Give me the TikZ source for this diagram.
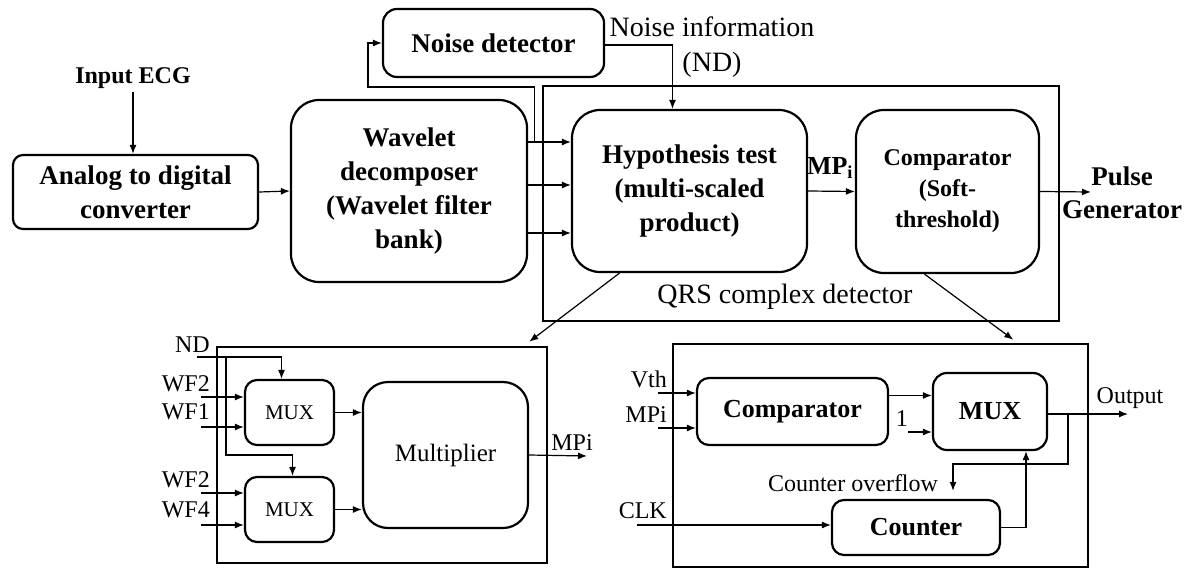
\documentclass[tikz,border=0pt]{standalone}
\usepackage{fontspec}
\setmainfont{Liberation Serif}
\usetikzlibrary{arrows.meta}
\begin{document}
\begin{tikzpicture}[x=1pt,y=-1pt,>={Latex[length=9pt,width=7pt]}]
\tikzstyle{blk}=[draw,line width=2.2pt,align=center,inner sep=0pt,font=\fontsize{27}{34}\selectfont\bfseries]
\tikzstyle{frame}=[draw,line width=2.6pt,inner sep=0pt]
\tikzstyle{lbl}=[inner sep=1pt,font=\fontsize{24}{30}\selectfont]
\tikzstyle{wire}=[line width=1.2pt]
\useasboundingbox (0,0) rectangle (1194,570);

% outer frames
\node[frame,minimum width=516pt,minimum height=235pt] at (801,203.5) (qrs) {};
\node[frame,minimum width=330pt,minimum height=216pt] at (382,455) (lbox) {};
\node[frame,minimum width=415pt,minimum height=223pt] at (880.5,455.5) (rbox) {};

% top row
\node[font=\fontsize{24}{30}\selectfont\bfseries] at (133,78) (inp) {Input ECG};
\node[blk,rounded corners=10pt,minimum width=245pt,minimum height=74pt] at (135.5,192) (adc) {Analog to digital\\converter};
\node[blk,rounded corners=28pt,minimum width=236pt,minimum height=182pt] at (409,191) (wav) {Wavelet\\decomposer\\(Wavelet filter\\bank)};
\node[blk,rounded corners=14pt,minimum width=221pt,minimum height=68pt] at (493.5,43) (nd) {Noise detector};
\node[blk,rounded corners=28pt,minimum width=235pt,minimum height=162pt] at (689.5,191) (hyp) {Hypothesis test\\(multi-scaled\\product)};
\node[blk,rounded corners=28pt,minimum width=183pt,minimum height=163pt,font=\fontsize{24}{31}\selectfont\bfseries] at (947.5,191.5) (cmp) {Comparator\\(Soft-\\threshold)};

\node[font=\fontsize{28}{35}\selectfont,align=center] at (712,47) (ninfo) {Noise information\\(ND)};
\node[font=\fontsize{26}{30}\selectfont\bfseries] at (830,168) (mpi) {MP\textsubscript{i}};
\node[font=\fontsize{27}{33}\selectfont\bfseries,align=center] at (1122,193) (pulse) {Pulse\\Generator};
\node[font=\fontsize{28}{30}\selectfont] at (785,297) (qrsl) {QRS complex detector};

\coordinate (fb) at (368,87);
\coordinate (pg) at (1091,192);

\draw[wire,->] (inp.south) -- (inp.south |- adc.north);
\draw[wire,->] (adc.east) -- (wav.west);
\draw[wire,->] ([yshift=49pt]wav.east) -- ([yshift=49pt]hyp.west);
\draw[wire,->] ([yshift=6pt]wav.east) -- ([yshift=6pt]hyp.west);
\draw[wire,->] ([yshift=-42pt]wav.east) -- ([yshift=-42pt]hyp.west);
\draw[wire,->] ([xshift=6pt,yshift=49pt]wav.east) |- (fb) |- (nd.west);
\draw[wire,->] ([yshift=-2pt]nd.east) -| ([xshift=-17pt]hyp.north);
\draw[wire,->] (hyp.east) -- (cmp.west);
\draw[wire,->] (cmp.east) -- (pg);
\draw[wire,->] ([xshift=-70pt]hyp.south) -- ([xshift=-19pt,yshift=4pt]lbox.north east);
\draw[wire,->] ([xshift=-23pt]cmp.south) -- ([xshift=-76pt,yshift=3pt]rbox.north east);

% multiplier part
\node[blk,rounded corners=12pt,minimum width=89pt,minimum height=65pt,font=\fontsize{21}{26}\selectfont] at (289.5,412.5) (mux1) {MUX};
\node[blk,rounded corners=12pt,minimum width=89pt,minimum height=65pt,font=\fontsize{21}{26}\selectfont] at (289.5,509.5) (mux2) {MUX};
\node[blk,rounded corners=25pt,minimum width=165pt,minimum height=146pt,font=\fontsize{25}{30}\selectfont] at (445.5,455) (mult) {Multiplier};

\coordinate (ndin) at (197,357);
\coordinate (ndbr) at (226,357);
\coordinate (wfa) at (201,397);
\coordinate (wfb) at (201,427);
\coordinate (wfc) at (201,493);
\coordinate (wfd) at (201,525);
\coordinate (mpo) at (587,456);

\node[lbl,anchor=south east] at ([xshift=14pt,yshift=3pt]ndin) (ndl) {ND};
\node[lbl,anchor=south east] at ([xshift=10pt,yshift=4pt]wfa) (wfal) {WF2};
\node[lbl,anchor=south east] at ([xshift=10pt,yshift=6pt]wfb) (wfbl) {WF1};
\node[lbl,anchor=south east] at ([xshift=10pt,yshift=4pt]wfc) (wfcl) {WF2};
\node[lbl,anchor=south east] at ([xshift=10pt,yshift=6pt]wfd) (wfdl) {WF4};
\node[lbl,anchor=south] at ([xshift=-15pt,yshift=4pt]mpo) (mpl) {MPi};

\draw[wire,->] (ndin) -| ([xshift=-8pt]mux1.north);
\draw[wire,->] (ndbr) |- ([xshift=3pt,yshift=21pt]mux2.north) -- ([xshift=3pt]mux2.north);
\draw[wire,->] (wfa) -- (wfa -| mux1.west);
\draw[wire,->] (wfb) -- (wfb -| mux1.west);
\draw[wire,->] (wfc) -- (wfc -| mux2.west);
\draw[wire,->] (wfd) -- (wfd -| mux2.west);
\draw[wire,->] (mux1.east) -- (mux1.east -| mult.west);
\draw[wire,->] (mux2.east) -- (mux2.east -| mult.west);
\draw[wire,->] (mult.east) -- (mpo);

% comparator part
\node[blk,rounded corners=12pt,minimum width=191pt,minimum height=67pt,font=\fontsize{26}{30}\selectfont\bfseries] at (792.5,411.5) (comp) {Comparator};
\node[blk,rounded corners=14pt,minimum width=114pt,minimum height=77pt,font=\fontsize{26}{30}\selectfont\bfseries] at (990,411.5) (muxr) {MUX};
\node[blk,rounded corners=12pt,minimum width=168pt,minimum height=55pt,font=\fontsize{26}{30}\selectfont\bfseries] at (916,527.5) (cnt) {Counter};

\coordinate (vin) at (658,393);
\coordinate (min) at (658,428);
\coordinate (cin) at (637,525);
\coordinate (onein) at (908,432);
\coordinate (out) at (1128,414);
\coordinate (fbr) at (1068,414);

\node[lbl,anchor=south east] at ([xshift=10pt,yshift=4pt]vin) (vth) {Vth};
\node[lbl,anchor=south east] at ([xshift=10pt,yshift=4pt]min) (mpr) {MPi};
\node[lbl,anchor=south east] at ([xshift=31pt,yshift=5pt]cin) (clk) {CLK};
\node[lbl,anchor=south east] at ([xshift=1pt,yshift=4pt]onein) (one) {1};
\node[lbl] at (853,483) (cov) {Counter overflow};
\node[lbl,anchor=south] at ([xshift=2pt,yshift=4pt]out) (outl) {Output};

\draw[wire,->] (vin) -- (vin -| comp.west);
\draw[wire,->] (min) -- (min -| comp.west);
\draw[wire,->] (cin) -- (cin -| cnt.west);
\draw[wire,->] ([yshift=16pt]comp.east) -- ([yshift=16pt]muxr.west);
\draw[wire,->] (onein) -- (onein -| muxr.west);
\draw[wire,->] (muxr.east |- out) -- (out);
\draw[wire,->] (fbr) |- ([xshift=37pt,yshift=35pt]cnt.north) -- ([xshift=37pt,yshift=8pt]cnt.north);
\draw[wire,->] (cnt.east) -| ([xshift=36pt]muxr.south);
\end{tikzpicture}
\end{document}
